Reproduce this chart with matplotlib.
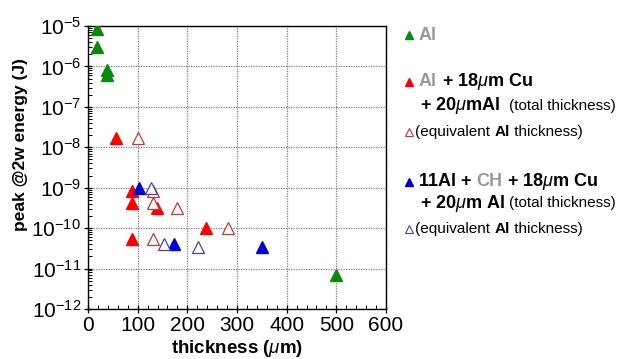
import matplotlib
matplotlib.use("Agg")
import matplotlib.pyplot as plt
from matplotlib.ticker import MultipleLocator, LogLocator, NullFormatter
from matplotlib.lines import Line2D

plt.rcParams['font.family'] = ['Liberation Sans', 'DejaVu Sans']
plt.rcParams['mathtext.fontset'] = 'custom'
plt.rcParams['mathtext.rm'] = 'Liberation Sans'
plt.rcParams['mathtext.it'] = 'Liberation Sans:italic'
plt.rcParams['mathtext.bf'] = 'Liberation Sans:bold'

# thickness (um) and peak 2w energy (J)
al_x = [18, 18, 39, 39, 500]
al_y = [8.5e-6, 3.0e-6, 8.0e-7, 6.2e-7, 7.0e-12]

cu_x = [56, 88, 88, 138, 238, 88]
cu_y = [1.7e-8, 8.5e-10, 4.3e-10, 3.2e-10, 1.0e-10, 5.3e-11]
cu_eq_x = [100, 130, 130, 180, 281, 130]
cu_eq_y = [1.7e-8, 8.5e-10, 4.3e-10, 3.2e-10, 1.0e-10, 5.3e-11]

ch_x = [103, 174, 351]
ch_y = [1.0e-9, 4.0e-11, 3.4e-11]
ch_eq_x = [127, 154, 222]
ch_eq_y = [1.0e-9, 4.0e-11, 3.4e-11]

green = '#0a8a0a'
red = '#ff0000'
blue = '#0000dd'
oblue = '#4444aa'
ored = '#cc3333'
grey = '#999999'

fig = plt.figure(figsize=(6.17, 3.59), dpi=100)
ax = fig.add_axes([0.1426, 0.1393, 0.4830, 0.7883])

ms = 8
ax.plot(al_x, al_y, '^', color=green, ms=ms, zorder=3)
ax.plot(cu_x, cu_y, '^', color=red, ms=ms, zorder=3)
ax.plot(cu_eq_x, cu_eq_y, '^', mfc='white', mec=ored, mew=0.9, ms=ms, zorder=3)
ax.plot(ch_x, ch_y, '^', color=blue, ms=ms, zorder=3)
ax.plot(ch_eq_x, ch_eq_y, '^', mfc='white', mec=oblue, mew=0.9, ms=ms, zorder=3)

ax.set_yscale('log')
ax.set_xlim(0, 600)
ax.set_ylim(1e-12, 1e-5)
ax.xaxis.set_major_locator(MultipleLocator(100))
ax.xaxis.set_minor_locator(MultipleLocator(20))
ax.yaxis.set_major_locator(LogLocator(base=10, numticks=20))
ax.yaxis.set_minor_locator(LogLocator(base=10, subs=range(2, 10), numticks=20))
ax.yaxis.set_minor_formatter(NullFormatter())

ax.grid(True, which='major', linestyle=(0, (1, 1)), color='#808080', linewidth=0.9)
ax.tick_params(which='major', direction='inout', length=6, width=0.9,
               labelsize=15, top=False, right=False, pad=2)
ax.tick_params(which='minor', direction='in', length=3, width=0.7,
               top=False, right=False)
for s in ax.spines.values():
    s.set_linewidth(1.0)

ax.set_xlabel('thickness ($\\mu$m)', fontsize=13.5, fontweight='bold', labelpad=2)
ax.set_ylabel('peak @2w energy (J)', fontsize=12.5, fontweight='bold')
ax.yaxis.set_label_coords(-0.2, 0.58)

fig.canvas.draw()
renderer = fig.canvas.get_renderer()


def put(x, y, pieces):
    # draw a row of differently styled text pieces side by side (pixel coords)
    for s, kw in pieces:
        opts = dict(va='center', ha='left', fontsize=13)
        opts.update(kw)
        t = fig.text(x / 617, 1 - y / 359, s, **opts)
        bb = t.get_window_extent(renderer)
        x += bb.width


def marker(x, y, **kw):
    fig.add_artist(Line2D([x / 617], [1 - y / 359], marker='^', ms=6,
                          transform=fig.transFigure, **kw))


B = dict(fontweight='bold', color='black')
R = dict(color='black', fontsize=11)

marker(409, 35, color=green, ls='none')
put(419, 35, [('Al', dict(fontweight='bold', color=grey))])

marker(409, 82, color=red, ls='none')
put(419, 82, [('Al', dict(fontweight='bold', color=grey)),
              (' + 18$\\mu$m Cu', B)])
put(420, 106, [('+ 20$\\mu$mAl', B)])
put(509, 106, [('(total thickness)', R)])

marker(409, 132, mfc='white', mec=ored, mew=0.8, ls='none')
put(415, 132, [('(equivalent ', R), ('Al', dict(fontweight='bold', color='black', fontsize=11)),
               (' thickness)', R)])

marker(409, 182, color=blue, ls='none')
put(419, 182, [('11Al + ', B), ('CH', dict(fontweight='bold', color=grey)),
               (' + 18$\\mu$m Cu', B)])
put(420, 203, [('+ 20$\\mu$m Al', B)])
put(509, 203, [('(total thickness)', R)])

marker(409, 229, mfc='white', mec=oblue, mew=0.8, ls='none')
put(415, 229, [('(equivalent ', R), ('Al', dict(fontweight='bold', color='black', fontsize=11)),
               (' thickness)', R)])

fig.savefig('out.png', dpi=100)
